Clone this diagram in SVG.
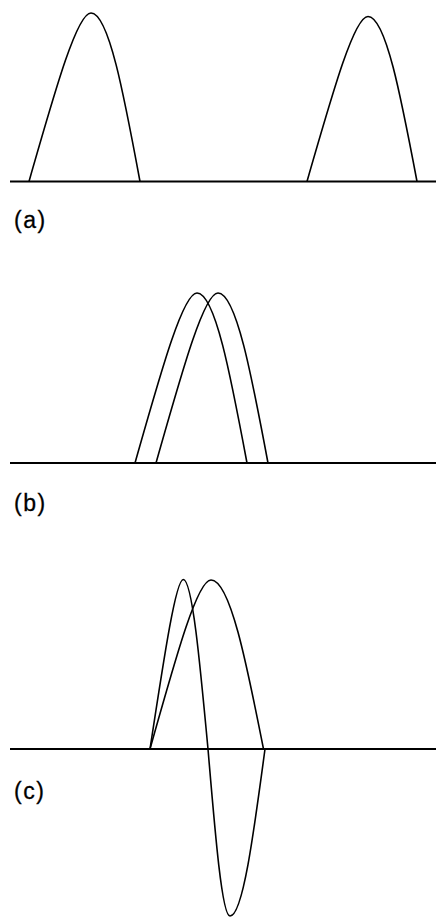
<svg xmlns="http://www.w3.org/2000/svg" width="436" height="918" viewBox="0 0 436 918">
<style>
.axis{stroke:#000;stroke-width:2;fill:none}
.wave{stroke:#000;stroke-width:1.6;fill:none;stroke-linejoin:round}
.lbl{font-family:"Liberation Sans",Arial,sans-serif;font-size:23px;letter-spacing:1.5px;fill:#000;stroke:#000;stroke-width:0.3}
</style>
<rect width="436" height="918" fill="#fff"/>
<g id="panel-a">
<line class="axis" x1="10" y1="181.5" x2="436" y2="181.5"/>
<path class="wave" d="M29,181.5 C56.9,83.8 77.4,13 91,13 C108.7,13 124,95.2 140,181.5"/>
<path class="wave" d="M307,181.5 C334.5,85.8 354.6,16.5 368,16.5 C385.7,16.5 401,97 417,181.5"/>
<text class="lbl" x="14" y="228">(a)</text>
</g>
<g id="panel-b">
<line class="axis" x1="10" y1="463" x2="436" y2="463"/>
<path class="wave" d="M135,463 C162.9,364.4 183.4,293 197,293 C215.1,293 230.7,376 247,463"/>
<path class="wave" d="M156,463 C183.9,364.4 204.4,293 218,293 C236.1,293 251.7,376 268,463"/>
<text class="lbl" x="14" y="511">(b)</text>
</g>
<g id="panel-c">
<line class="axis" x1="10" y1="749" x2="436" y2="749"/>
<path class="wave" d="M150,749 C177.5,651 197.6,580 211,580 C230,580 246.4,662.5 263.5,749"/>
<path class="wave" d="M150,749 C165,650.7 176,579.5 183.3,579.5 C192.2,579.5 199.9,662.2 208,749 C215.2,834.5 222,916 230,916 C242.7,916 253.6,834.5 265,749"/>
<text class="lbl" x="14" y="799">(c)</text>
</g>
</svg>
